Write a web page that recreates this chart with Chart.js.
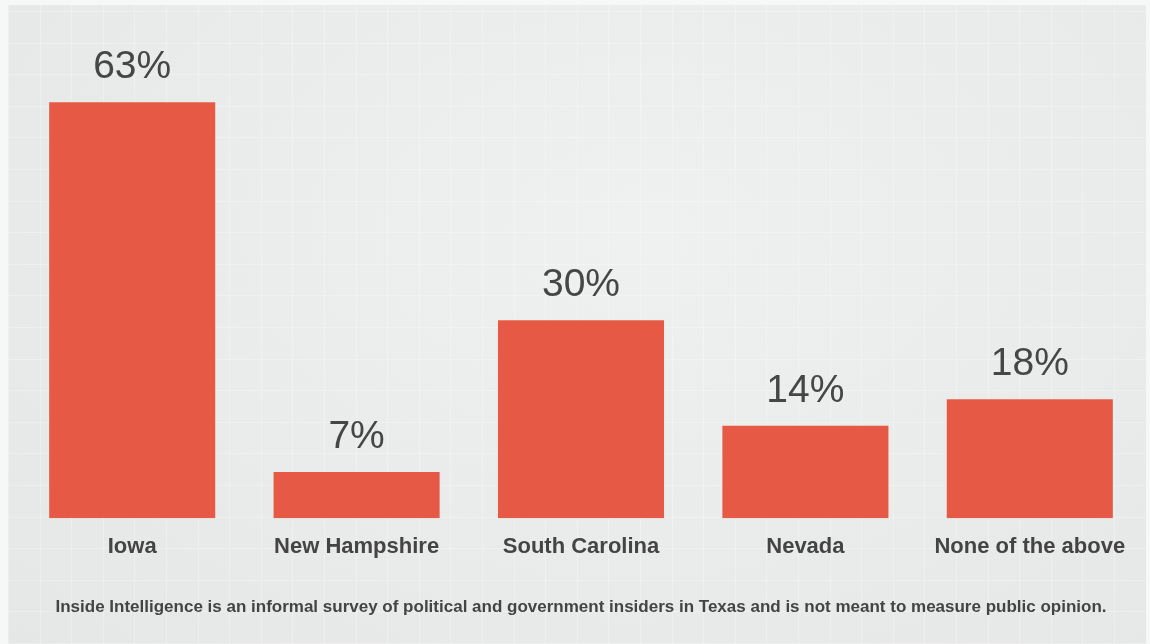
<!DOCTYPE html>
<html>
<head>
<meta charset="utf-8">
<script src="https://cdn.jsdelivr.net/npm/chart.js@4.4.0/dist/chart.umd.min.js"></script>
<style>
  html, body { margin: 0; padding: 0; background: #f6f7f7; }
  #wrap {
    position: relative;
    width: 1150px;
    height: 644px;
    overflow: hidden;
  }
  #panel {
    position: absolute;
    left: 8px; top: 5px; width: 1138px; height: 639px;
    background:
      repeating-linear-gradient(90deg, rgba(255,255,255,0.28) 0px, rgba(255,255,255,0.28) 1px, transparent 1px, transparent 31.6px),
      repeating-linear-gradient(0deg, rgba(255,255,255,0.28) 0px, rgba(255,255,255,0.28) 1px, transparent 1px, transparent 31.6px),
      radial-gradient(ellipse at 55% 35%, #eff0f0 0%, #e9eaea 60%, #e5e6e6 100%);
  }
  canvas { position: absolute; left: 0; top: 0; }
</style>
</head>
<body>
<div id="wrap">
  <div id="panel"></div>
  <canvas id="states-chart" width="1150" height="644"></canvas>
</div>
<script>
const categories = ['Iowa', 'New Hampshire', 'South Carolina', 'Nevada', 'None of the above'];
const shares = [63, 7, 30, 14, 18];
const footnote = 'Inside Intelligence is an informal survey of political and government insiders in Texas and is not meant to measure public opinion.';

// draws the "63%" style labels above each bar
const valueLabels = {
    id: 'valueLabels',
    afterDatasetsDraw(chart) {
        const ctx = chart.ctx;
        const meta = chart.getDatasetMeta(0);
        ctx.save();
        ctx.fillStyle = '#464646';
        ctx.font = '39px "Liberation Sans", Arial, sans-serif';
        ctx.textAlign = 'center';
        ctx.textBaseline = 'alphabetic';
        meta.data.forEach(function (bar, i) {
            ctx.fillText(shares[i] + '%', bar.x, bar.y - 24);
        });
        ctx.restore();
    }
};

let statesChart = new Chart(document.getElementById('states-chart'), {
    type: 'bar',
    data: {
        labels: categories,
        datasets: [{
            data: shares,
            backgroundColor: '#e65a45',
            borderWidth: 0,
            barPercentage: 0.74,
            categoryPercentage: 1
        }]
    },
    options: {
        responsive: false,
        animation: false,
        layout: {
            padding: { top: 60, left: 20, right: 8, bottom: 0 }
        },
        plugins: {
            legend: { display: false },
            tooltip: { enabled: false },
            title: {
                display: true,
                position: 'bottom',
                text: footnote,
                color: '#444444',
                padding: { top: 21, bottom: 26 },
                font: {
                    size: 17,
                    weight: 'bold',
                    family: '"Liberation Sans", Arial, sans-serif'
                }
            }
        },
        scales: {
            x: {
                grid: { display: false, drawTicks: false },
                border: { display: false },
                ticks: {
                    color: '#444444',
                    padding: 16,
                    font: {
                        size: 22,
                        weight: 'bold',
                        family: '"Liberation Sans", Arial, sans-serif'
                    }
                }
            },
            y: {
                display: false,
                min: 0,
                max: 69.4
            }
        }
    },
    plugins: [valueLabels]
});
</script>
</body>
</html>
